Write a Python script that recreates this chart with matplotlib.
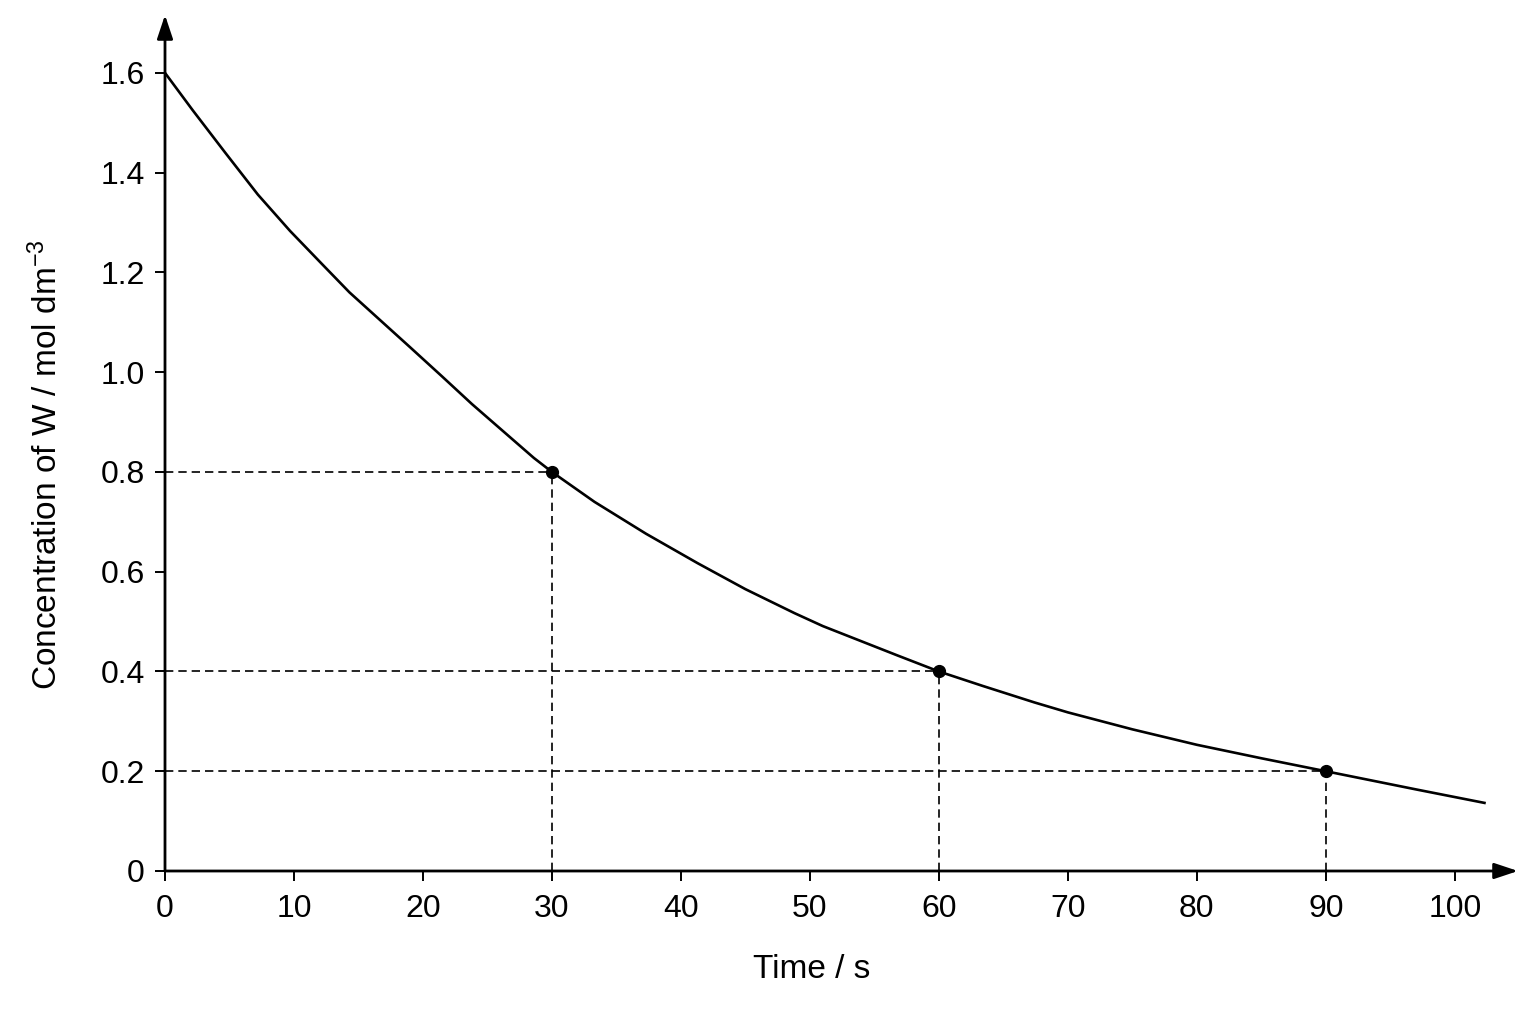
import matplotlib
matplotlib.use("Agg")
import matplotlib.pyplot as plt

# ---- data ----
time_s = [0, 2.15, 4.67, 7.2, 9.7, 12.2, 14.3, 19.0, 21.5, 23.8, 26.2, 28.6,
          30, 33.3, 37.3, 41.3, 45.0, 48.8, 51.0, 56.8, 60, 63.4, 67.4, 70,
          75, 80, 85, 90, 97.1, 102.4]
conc = [1.60, 1.525, 1.44, 1.356, 1.283, 1.216, 1.16, 1.05, 0.991, 0.936,
        0.882, 0.828, 0.80, 0.740, 0.676, 0.617, 0.565, 0.517, 0.491, 0.432,
        0.40, 0.371, 0.338, 0.318, 0.284, 0.253, 0.226, 0.20, 0.163, 0.136]
marked_t = [30, 60, 90]
marked_c = [0.8, 0.4, 0.2]
x_ticks = [0, 10, 20, 30, 40, 50, 60, 70, 80, 90, 100]
y_ticks = [0, 0.2, 0.4, 0.6, 0.8, 1.0, 1.2, 1.4, 1.6]
y_tick_labels = ["0", "0.2", "0.4", "0.6", "0.8", "1.0", "1.2", "1.4", "1.6"]
x_label = "Time / s"
y_label = r"Concentration of W / mol dm$^{-3}$"

FONT = ["Liberation Sans", "DejaVu Sans"]
plt.rcParams["font.family"] = FONT
plt.rcParams["mathtext.fontset"] = "custom"
plt.rcParams["mathtext.rm"] = "Liberation Sans"
plt.rcParams["mathtext.it"] = "Liberation Sans"

W, H = 1536, 1024
fig = plt.figure(figsize=(W / 100, H / 100), dpi=100)
left, bottom = 165, 871
ax = fig.add_axes([left / W, 1 - bottom / H, 1353 / W, 856 / H])
ax.set_xlim(0, 104.9)
ax.set_ylim(0, 1.716)

for s in ax.spines.values():
    s.set_visible(False)

# axes with arrows
arrow = dict(arrowstyle="-|>,head_length=0.72,head_width=0.24", lw=2,
             color="black", shrinkA=0, shrinkB=0, mutation_scale=20)
ax.annotate("", xy=(1, 0), xytext=(0, 0), xycoords="axes fraction",
            arrowprops=arrow)
ax.annotate("", xy=(0, 1), xytext=(0, 0), xycoords="axes fraction",
            arrowprops=arrow)

# dashed guides
for t, c in zip(marked_t, marked_c):
    ax.plot([0, t], [c, c], color="black", lw=1.2, ls=(0, (5, 3)), zorder=2)
    ax.plot([t, t], [0, c], color="black", lw=1.2, ls=(0, (5, 3)), zorder=2)

ax.plot(time_s, conc, color="black", lw=1.9, zorder=3,
        solid_joinstyle="round", solid_capstyle="butt")
ax.plot(marked_t, marked_c, "o", color="black", ms=8.5, zorder=4)

ax.set_xticks(x_ticks)
ax.set_xticklabels([str(v) for v in x_ticks])
ax.set_yticks(y_ticks)
ax.set_yticklabels(y_tick_labels)
ax.tick_params(axis="both", direction="out", length=7.5, width=1.4,
               labelsize=23, colors="black")
ax.tick_params(axis="x", pad=9)
ax.tick_params(axis="y", pad=7)

fig.text(812 / W, 1 - 970 / H, x_label, fontsize=24, ha="center", va="center")
fig.text(47 / W, 1 - 465 / H, y_label, fontsize=24, ha="center", va="center",
         rotation=90)

fig.savefig("out.png", dpi=100, facecolor="white")
